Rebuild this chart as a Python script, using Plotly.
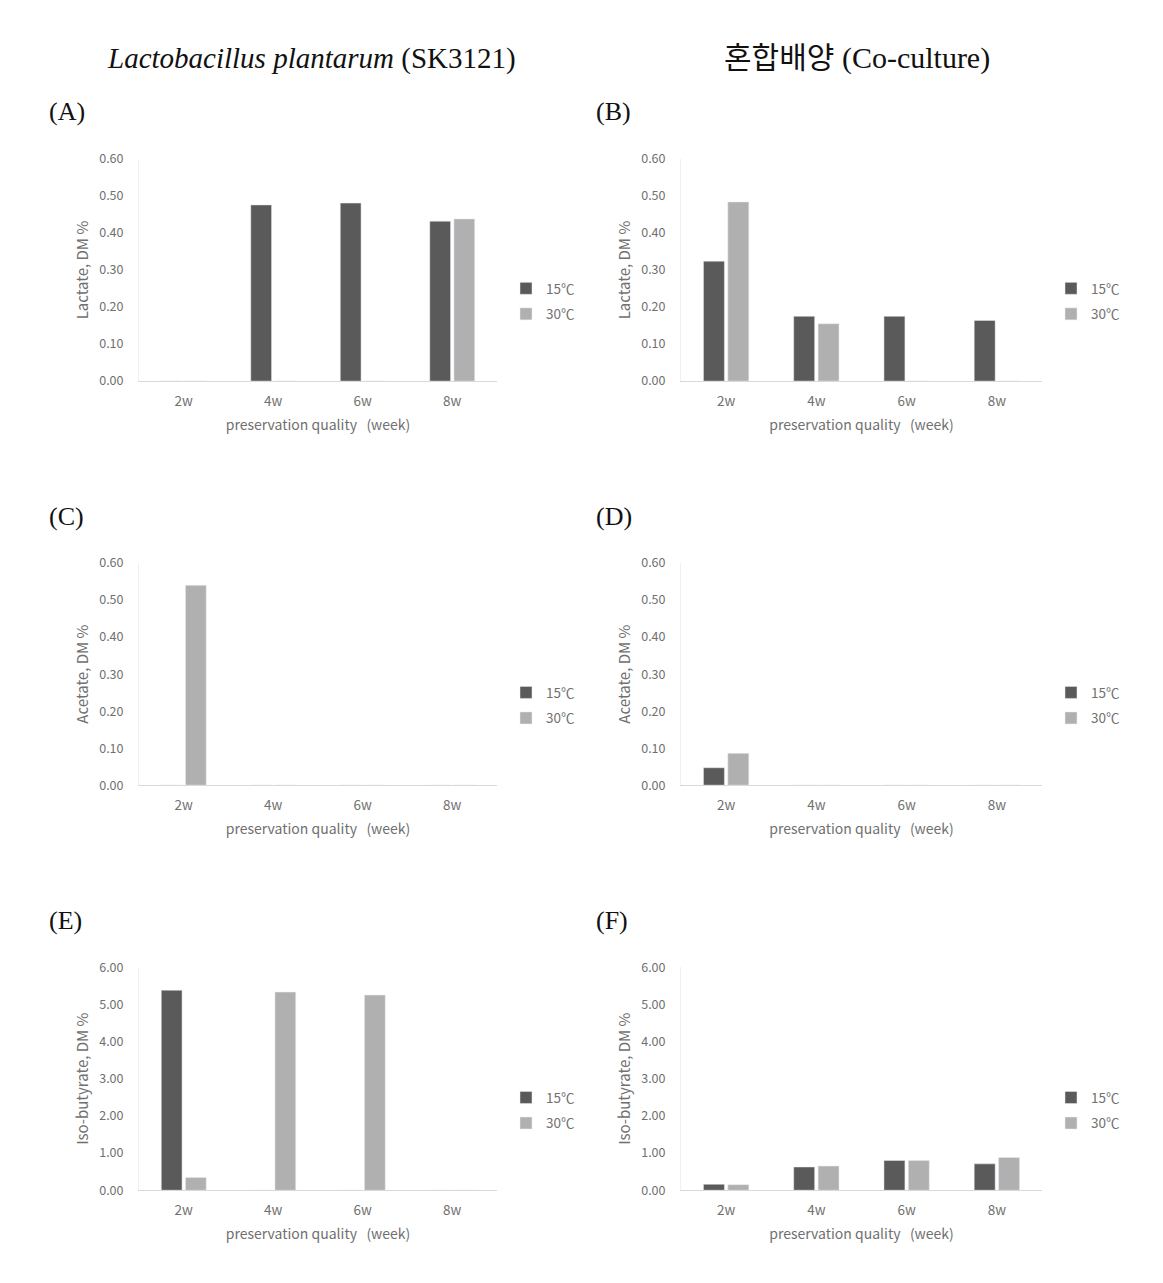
import plotly.graph_objects as go

W, H = 1163, 1283

weeks = ["2w", "4w", "6w", "8w"]
series_names = ["15℃", "30℃"]

lactate_lp_15 = [0.0, 0.476, 0.481, 0.432]
lactate_lp_30 = [0.0, 0.0, 0.0, 0.438]
lactate_co_15 = [0.324, 0.175, 0.175, 0.164]
lactate_co_30 = [0.484, 0.155, 0.0, 0.0]
acetate_lp_15 = [0.0, 0.0, 0.0, 0.0]
acetate_lp_30 = [0.54, 0.0, 0.0, 0.0]
acetate_co_15 = [0.047, 0.0, 0.0, 0.0]
acetate_co_30 = [0.086, 0.0, 0.0, 0.0]
isob_lp_15 = [5.38, 0.0, 0.0, 0.0]
isob_lp_30 = [0.34, 5.33, 5.25, 0.0]
isob_co_15 = [0.16, 0.625, 0.80, 0.71]
isob_co_30 = [0.15, 0.65, 0.80, 0.88]

y_titles = ["Lactate, DM %", "Lactate, DM %", "Acetate, DM %", "Acetate, DM %",
            "Iso-butyrate, DM %", "Iso-butyrate, DM %"]
panel_labels = ["(A)", "(B)", "(C)", "(D)", "(E)", "(F)"]
col_headers = ["<i>Lactobacillus plantarum</i> (SK3121)", "혼합배양 (Co-culture)"]
x_title = "preservation quality \u00a0 (week)"

panels = [
    (lactate_lp_15, lactate_lp_30, 0.6, 0.1),
    (lactate_co_15, lactate_co_30, 0.6, 0.1),
    (acetate_lp_15, acetate_lp_30, 0.6, 0.1),
    (acetate_co_15, acetate_co_30, 0.6, 0.1),
    (isob_lp_15, isob_lp_30, 6.0, 1.0),
    (isob_co_15, isob_co_30, 6.0, 1.0),
]


# target screen pixel -> paper fraction (page offset / scaling compensation)
def fx(X):
    return (X - 8) / W


def fy(Y):
    return 1 - ((Y - 18) / 0.985) / H


# target boxes in screen pixels: (left, right, top, bottom)
boxes = [
    (139, 497, 158, 380), (681, 1042, 158, 380),
    (139, 497, 562, 784), (681, 1042, 562, 784),
    (139, 497, 966, 1189), (681, 1042, 966, 1189),
]
legend_pos = [(506, 272), (1051, 272), (506, 676), (1051, 676), (506, 1081), (1051, 1081)]
label_pos = [(47, 110), (594, 110), (47, 515), (594, 515), (47, 919), (594, 919)]

DARK = "#5a5a5a"
LIGHT = "#b0b0b0"
TXT = "#707070"
SANS = "Noto Sans CJK KR"
SERIF = "Liberation Serif"

fig = go.Figure()
layout = dict(width=W, height=H, margin=dict(l=0, r=0, t=0, b=0),
              paper_bgcolor="white", plot_bgcolor="white",
              barmode="group", bargap=0.46, bargroupgap=0.14,
              font=dict(family=SANS, color=TXT), annotations=[])

for i, ((s15, s30, ymax, dt), (l, r, t, b)) in enumerate(zip(panels, boxes)):
    k = "" if i == 0 else str(i + 1)
    leg = "legend" if i == 0 else f"legend{i + 1}"
    for name, vals, col in ((series_names[0], s15, DARK), (series_names[1], s30, LIGHT)):
        fig.add_trace(go.Bar(x=weeks, y=vals, name=name, marker_color=col,
                             xaxis="x" + k, yaxis="y" + k, legend=leg,
                             legendgroup=f"{leg}_{name}"))
    layout["xaxis" + k] = dict(domain=[fx(l), fx(r)], anchor="y" + k,
                               showline=True, linecolor="#d9d9d9", linewidth=1,
                               showgrid=False, zeroline=False, ticks="",
                               ticklabelstandoff=8,
                               tickfont=dict(size=13.5, color=TXT),
                               title=dict(text=x_title, font=dict(size=14, color=TXT), standoff=10))
    layout["yaxis" + k] = dict(domain=[fy(b), fy(t)], anchor="x" + k,
                               range=[0, ymax], dtick=dt, tick0=0, tickformat=".2f",
                               showline=True, linecolor="#f0f0f0", linewidth=1,
                               showgrid=False, zeroline=False, ticks="",
                               ticklabelstandoff=12,
                               tickfont=dict(size=12.5, color=TXT),
                               title=dict(text=y_titles[i], font=dict(size=15, color=TXT), standoff=6))
    lx, ly = legend_pos[i]
    layout[leg] = dict(x=fx(lx), y=fy(ly), xanchor="left", yanchor="top",
                       bgcolor="rgba(0,0,0,0)", font=dict(size=13.5, color=TXT),
                       tracegroupgap=5, itemwidth=30, traceorder="grouped")
    px, py = label_pos[i]
    layout["annotations"].append(dict(text=panel_labels[i], x=fx(px), y=fy(py),
                                      xref="paper", yref="paper", xanchor="left", yanchor="middle",
                                      showarrow=False, font=dict(family=SERIF, size=26, color="#111111")))

layout["annotations"].append(dict(text=col_headers[0], x=fx(311), y=fy(57), xref="paper", yref="paper",
                                  xanchor="center", yanchor="middle", showarrow=False,
                                  font=dict(family=SERIF, size=29, color="#111111")))
layout["annotations"].append(dict(text=col_headers[1], x=fx(857), y=fy(57), xref="paper", yref="paper",
                                  xanchor="center", yanchor="middle", showarrow=False,
                                  font=dict(family=SERIF + ", Noto Sans CJK KR", size=30, color="#111111")))

fig.update_layout(**layout)
fig.write_html("out.html")
